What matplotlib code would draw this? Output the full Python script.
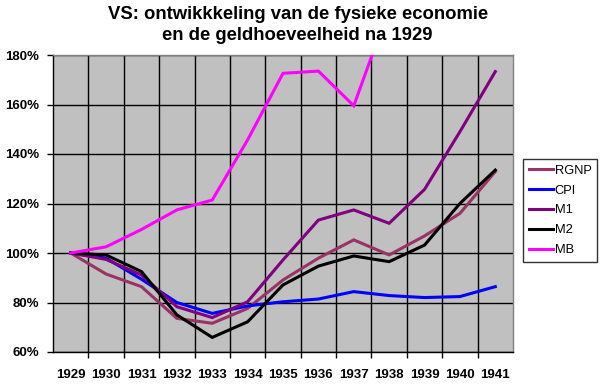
import numpy as np
import matplotlib.pyplot as plt

# data (index, 1929 = 100%)
years = ['1929', '1930', '1931', '1932', '1933', '1934', '1935',
         '1936', '1937', '1938', '1939', '1940', '1941']
rgnp = [100, 91.5, 86.4, 73.6, 71.6, 77.6, 89.1, 97.9, 105.3, 99.2, 106.9, 116.0, 132.9]
cpi = [100, 97.9, 89.4, 80.0, 75.6, 78.6, 80.3, 81.4, 84.4, 82.8, 82.0, 82.4, 86.4]
m1 = [100, 97.4, 91.1, 78.3, 73.9, 80.3, 97.2, 113.3, 117.4, 112.0, 125.7, 149.0, 173.3]
m2 = [100, 99.2, 92.5, 75.0, 65.9, 72.2, 87.1, 94.7, 98.8, 96.5, 103.2, 120.0, 133.5]
mb = [100, 102.5, 109.5, 117.4, 121.4, 145.7, 172.6, 173.5, 159.5, 199.0]

series = [('RGNP', rgnp, '#993366'), ('CPI', cpi, '#0000FF'),
          ('M1', m1, '#800080'), ('M2', m2, '#000000'), ('MB', mb, '#FF00FF')]

plt.rcParams['font.family'] = 'Liberation Sans'

fig = plt.figure(figsize=(6, 3.84), dpi=100)
ax = fig.add_axes([53/600, 1-352/384, 460/600, 297/384])
ax.set_facecolor('#C0C0C0')

for name, vals, col in series:
    ax.plot(np.arange(len(vals)), vals, color=col, lw=2.2, label=name,
            solid_joinstyle='miter', zorder=3)

ax.set_xlim(-0.5, len(years) - 0.5)
ax.set_ylim(60, 180)
ax.set_yticks(np.arange(60, 181, 20))
ax.set_yticklabels(['%d%%' % v for v in range(60, 181, 20)],
                   fontsize=9.5, fontweight='bold')
ax.set_xticks(np.arange(len(years)))
ax.set_xticklabels(years, fontsize=9.5, fontweight='bold')
ax.set_xticks(np.arange(len(years) - 1) + 0.5, minor=True)
ax.tick_params(axis='x', which='major', length=0, pad=12)
ax.tick_params(axis='x', which='minor', length=4, width=1, direction='out')
ax.tick_params(axis='y', length=4, width=1, pad=6, direction='out')

ax.grid(False)
ax.grid(True, axis='y', which='major', color='black', lw=1, zorder=1)
ax.grid(True, axis='x', which='minor', color='black', lw=1, zorder=1)

for s in ['left', 'bottom']:
    ax.spines[s].set_color('black')
    ax.spines[s].set_linewidth(1)
for s in ['top', 'right']:
    ax.spines[s].set_color('#808080')
    ax.spines[s].set_linewidth(1)

fig.text(0.496, 0.985, 'VS: ontwikkkeling van de fysieke economie\nen de geldhoeveelheid na 1929',
         ha='center', va='top', fontsize=13.3, fontweight='bold', linespacing=1.3)

leg = ax.legend(loc='upper left', bbox_to_anchor=(523/600, 1-159/384),
                bbox_transform=fig.transFigure, fontsize=9.3, frameon=True,
                fancybox=False, edgecolor='black', facecolor='white',
                handlelength=1.9, handletextpad=0.1, labelspacing=0.6,
                borderpad=0.45, borderaxespad=0)
leg.get_frame().set_linewidth(1)

fig.savefig('out.png', dpi=100)
